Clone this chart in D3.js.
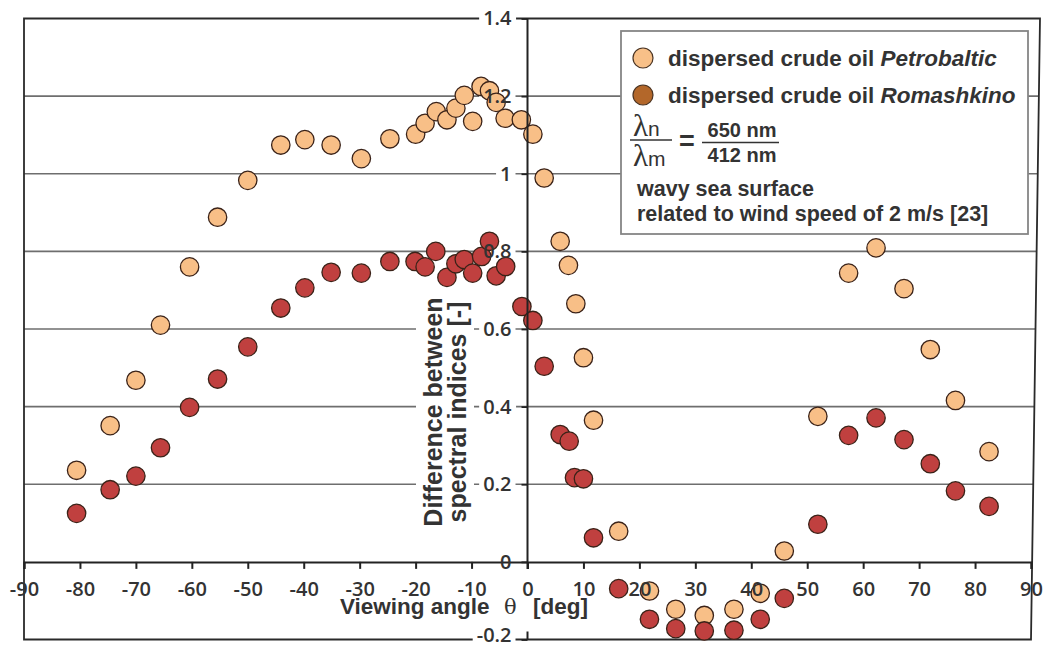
<!DOCTYPE html>
<html>
<head>
<meta charset="utf-8">
<script src="https://cdn.jsdelivr.net/npm/d3@7"></script>
<style>
  html, body { margin: 0; padding: 0; background: #ffffff; }
  svg { display: block; }
</style>
</head>
<body>
<svg id="chart" width="1053" height="648"></svg>
<script>
// ---------------- data ----------------
const xTicks = [-90, -80, -70, -60, -50, -40, -30, -20, -10, 0, 10, 20, 30, 40, 50, 60, 70, 80, 90];
const xTickLabels = ["-90", "-80", "-70", "-60", "-50", "-40", "-30", "-20", "-10", "0", "10", "20", "30", "40", "50", "60", "70", "80", "90"];
const yTicks = [-0.2, 0, 0.2, 0.4, 0.6, 0.8, 1.0, 1.2, 1.4];
const yTickLabels = ["-0.2", "0", "0.2", "0.4", "0.6", "0.8", "1", "1.2", "1.4"];
const gridValues = [0.2, 0.4, 0.6, 0.8, 1.0, 1.2];

const petroAngles = [-80.6, -74.6, -70.0, -65.6, -60.4, -55.4, -50.0, -44.1, -39.8, -35.1,
  -29.7, -24.6, -20.0, -18.3, -16.3, -14.4, -12.8, -11.3, -9.8, -8.3, -6.8, -5.6, -4.0, -1.1, 0.96,
  2.98, 5.84, 7.32, 8.64, 10.0, 11.8, 16.3, 21.8, 26.5, 31.6, 36.9, 41.6, 45.9,
  51.9, 57.4, 62.3, 67.3, 72.0, 76.5, 82.5];
const petroValues = [0.236, 0.351, 0.468, 0.610, 0.760, 0.888, 0.983, 1.074, 1.088, 1.074,
  1.039, 1.090, 1.102, 1.130, 1.160, 1.139, 1.169, 1.202, 1.135, 1.225, 1.214, 1.184, 1.143, 1.139, 1.102,
  0.989, 0.826, 0.764, 0.665, 0.526, 0.365, 0.079, -0.075, -0.122, -0.138, -0.122, -0.081, 0.028,
  0.375, 0.744, 0.809, 0.704, 0.547, 0.416, 0.284];

const romaAngles = [-80.6, -74.6, -70.0, -65.6, -60.4, -55.4, -50.0, -44.1, -39.8, -35.1,
  -29.7, -24.6, -20.1, -18.3, -16.4, -14.4, -12.8, -11.3, -9.8, -8.2, -6.8, -5.6, -3.9, -1.0, 0.96,
  2.98, 5.84, 7.45, 8.4, 10.0, 11.8, 16.3, 21.8, 26.5, 31.6, 36.9, 41.6, 45.9,
  51.9, 57.4, 62.3, 67.3, 72.0, 76.5, 82.5];
const romaValues = [0.125, 0.186, 0.221, 0.294, 0.398, 0.471, 0.554, 0.654, 0.706, 0.746,
  0.744, 0.774, 0.774, 0.760, 0.800, 0.733, 0.768, 0.779, 0.744, 0.787, 0.826, 0.737, 0.761, 0.658, 0.622,
  0.504, 0.328, 0.311, 0.217, 0.214, 0.062, -0.069, -0.148, -0.172, -0.178, -0.176, -0.148, -0.094,
  0.097, 0.326, 0.371, 0.315, 0.253, 0.183, 0.143];

const seriesNames = ["Petrobaltic", "Romashkino"];
const legendPrefix = "dispersed crude oil ";
const noteLines = ["wavy sea surface", "related to wind speed of 2 m/s [23]"];
const fractionTop = "650 nm";
const fractionBottom = "412 nm";
const xTitleParts = ["Viewing angle", "\u03B8", "[deg]"];
const yTitleLines = ["Difference between", "spectral indices [-]"];

// ---------------- setup ----------------
const svg = d3.select("#chart");
const x = d3.scaleLinear().domain([-90, 90]).range([24, 1031]);
const y = d3.scaleLinear().domain([-0.2, 1.4]).range([639.5, 18.5]);
const skew = 9; // right border is slightly slanted in the original
const rightEdge = py => x(90) + skew * (y(-0.2) - py) / (y(-0.2) - y(1.4));

const textColor = "#333333";
const gridColor = "#6e6e6e";
const tickFont = "'Open Sans', 'Liberation Sans', sans-serif";
const labelFont = "'Liberation Sans', Arial, sans-serif";

const gridLayer = svg.append("g");
const bgLayer = svg.append("g");
const pointLayer = svg.append("g");
const axisLayer = svg.append("g");
const legendLayer = svg.append("g");

// gridlines
gridLayer.selectAll("line.grid").data(gridValues).join("line")
  .attr("x1", x(-90)).attr("x2", d => rightEdge(y(d)))
  .attr("y1", d => y(d)).attr("y2", d => y(d))
  .attr("stroke", gridColor).attr("stroke-width", 1.6);

// frame
gridLayer.append("path")
  .attr("d", `M${x(-90)},${y(1.4)} H${rightEdge(y(1.4))} L${x(90)},${y(-0.2)} H${x(-90)} Z`)
  .attr("fill", "none").attr("stroke", "#2a2a2a").attr("stroke-width", 1.8);

// x axis (at value 0)
const xAxis = d3.axisBottom(x).tickValues(xTicks).tickSize(7).tickPadding(13)
  .tickFormat((d, i) => xTickLabels[i]);
const gx = axisLayer.append("g").attr("transform", `translate(0,${y(0)})`).call(xAxis);
gx.select(".domain").attr("stroke", "#222").attr("stroke-width", 2);
gx.selectAll(".tick line").attr("stroke", "#222").attr("stroke-width", 2);
gx.selectAll(".tick text").attr("fill", textColor).attr("font-family", tickFont)
  .attr("font-weight", 600).attr("font-size", 20);

// y axis (at angle 0)
const yAxis = d3.axisLeft(y).tickValues(yTicks).tickSize(6).tickPadding(10)
  .tickFormat((d, i) => yTickLabels[i]);
const gy = axisLayer.append("g").attr("transform", `translate(${x(0)},0)`).call(yAxis);
gy.select(".domain").remove();
gy.selectAll(".tick line").attr("stroke", "#222").attr("stroke-width", 1.8);
gy.selectAll(".tick text").attr("fill", textColor).attr("font-family", tickFont)
  .attr("font-weight", 600).attr("font-size", 20);
gy.selectAll(".tick").filter(d => d === -0.2).select("text").attr("dy", "0.12em");
axisLayer.append("line")
  .attr("x1", x(0)).attr("x2", x(0)).attr("y1", y(1.4)).attr("y2", y(0) + 7)
  .attr("stroke", "#222").attr("stroke-width", 2);
axisLayer.append("line")
  .attr("x1", x(0)).attr("x2", x(0)).attr("y1", y(-0.2) - 8).attr("y2", y(-0.2))
  .attr("stroke", "#222").attr("stroke-width", 2);

// white backgrounds behind y tick labels (cut the gridlines)
gy.selectAll(".tick").each(function(d) {
  const t = d3.select(this).select("text").node();
  const bb = t.getBBox();
  bgLayer.append("rect")
    .attr("x", x(0) + bb.x - 4).attr("y", y(d) - 5)
    .attr("width", bb.width + 4 + 4).attr("height", 10)
    .attr("fill", "#fff");
});

// y axis title
const yTitle = axisLayer.append("text")
  .attr("transform", `translate(0,412) rotate(-90)`)
  .attr("text-anchor", "middle")
  .attr("font-family", labelFont).attr("font-weight", "bold").attr("font-size", 25)
  .attr("fill", textColor);
yTitleLines.forEach((line, i) => {
  yTitle.append("tspan").attr("x", 0).attr("y", 442 + i * 24).text(line);
});
const yb = yTitle.node().getBBox();
bgLayer.append("rect")
  .attr("x", yb.y - 3).attr("y", 412 - yb.x - yb.width - 3)
  .attr("width", yb.height + 6).attr("height", yb.width + 6)
  .attr("fill", "#fff");

// x axis title
const xTitle = axisLayer.append("text")
  .attr("y", 614)
  .attr("font-family", labelFont).attr("font-weight", "bold").attr("font-size", 22.5)
  .attr("fill", textColor);
xTitle.append("tspan").attr("x", 340).text(xTitleParts[0]);
xTitle.append("tspan").attr("x", 504).attr("font-family", "'DejaVu Serif', 'Liberation Serif', serif")
  .attr("font-weight", "normal").attr("font-size", 21).text(xTitleParts[1]);
xTitle.append("tspan").attr("x", 533).text(xTitleParts[2]);

// points
const petro = petroAngles.map((a, i) => ({ a, v: petroValues[i] }));
const roma = romaAngles.map((a, i) => ({ a, v: romaValues[i] }));
const pointStroke = "#3a2218";
const petroFill = "#f8bf87";
const romaFill = "#c0403f";

pointLayer.selectAll("circle.petro").data(petro).join("circle")
  .attr("cx", d => x(d.a)).attr("cy", d => y(d.v)).attr("r", 9.2)
  .attr("fill", petroFill).attr("stroke", pointStroke).attr("stroke-width", 1.3);
pointLayer.selectAll("circle.roma").data(roma).join("circle")
  .attr("cx", d => x(d.a)).attr("cy", d => y(d.v)).attr("r", 9.2)
  .attr("fill", romaFill).attr("stroke", pointStroke).attr("stroke-width", 1.3);

// legend
legendLayer.append("rect")
  .attr("x", 621).attr("y", 31).attr("width", 407).attr("height", 203)
  .attr("fill", "#fff").attr("stroke", "#858585").attr("stroke-width", 1.8);
const legendFills = ["#f8c088", "#b3672a"];
seriesNames.forEach((name, i) => {
  const cy = 58 + i * 37;
  legendLayer.append("circle").attr("cx", 643).attr("cy", cy).attr("r", 10)
    .attr("fill", legendFills[i]).attr("stroke", "#4a3322").attr("stroke-width", 1.2);
  const t = legendLayer.append("text").attr("x", 668).attr("y", cy + 8)
    .attr("font-family", labelFont).attr("font-weight", "bold").attr("font-size", 22.5)
    .attr("fill", textColor);
  t.append("tspan").text(legendPrefix);
  t.append("tspan").attr("font-style", "italic").text(name);
});
// fraction lambda_n / lambda_m
const lamFont = "'Liberation Serif', 'DejaVu Serif', serif";
const lamN = legendLayer.append("text").attr("x", 633).attr("y", 136)
  .attr("fill", textColor).attr("font-family", lamFont).attr("font-size", 31);
lamN.append("tspan").text("\u03BB");
lamN.append("tspan").attr("font-family", labelFont).attr("font-size", 21).text("n");
const lamM = legendLayer.append("text").attr("x", 633).attr("y", 166)
  .attr("fill", textColor).attr("font-family", lamFont).attr("font-size", 31);
lamM.append("tspan").text("\u03BB");
lamM.append("tspan").attr("font-family", labelFont).attr("font-size", 21).text("m");
legendLayer.append("line").attr("x1", 630).attr("x2", 672).attr("y1", 140).attr("y2", 140)
  .attr("stroke", textColor).attr("stroke-width", 1.5);
legendLayer.append("text").attr("x", 687).attr("y", 150).attr("text-anchor", "middle")
  .attr("font-family", labelFont).attr("font-weight", "bold").attr("font-size", 27)
  .attr("fill", textColor).text("=");
legendLayer.append("text").attr("x", 742).attr("y", 137).attr("text-anchor", "middle")
  .attr("font-family", labelFont).attr("font-weight", "bold").attr("font-size", 20)
  .attr("fill", textColor).text(fractionTop);
legendLayer.append("line").attr("x1", 702).attr("x2", 779).attr("y1", 142.5).attr("y2", 142.5)
  .attr("stroke", textColor).attr("stroke-width", 1.5);
legendLayer.append("text").attr("x", 742).attr("y", 162).attr("text-anchor", "middle")
  .attr("font-family", labelFont).attr("font-weight", "bold").attr("font-size", 20)
  .attr("fill", textColor).text(fractionBottom);
noteLines.forEach((line, i) => {
  legendLayer.append("text").attr("x", 637).attr("y", 196 + i * 25)
    .attr("font-family", labelFont).attr("font-weight", "bold").attr("font-size", 21.5)
    .attr("fill", textColor).text(line);
});
</script>
</body>
</html>
